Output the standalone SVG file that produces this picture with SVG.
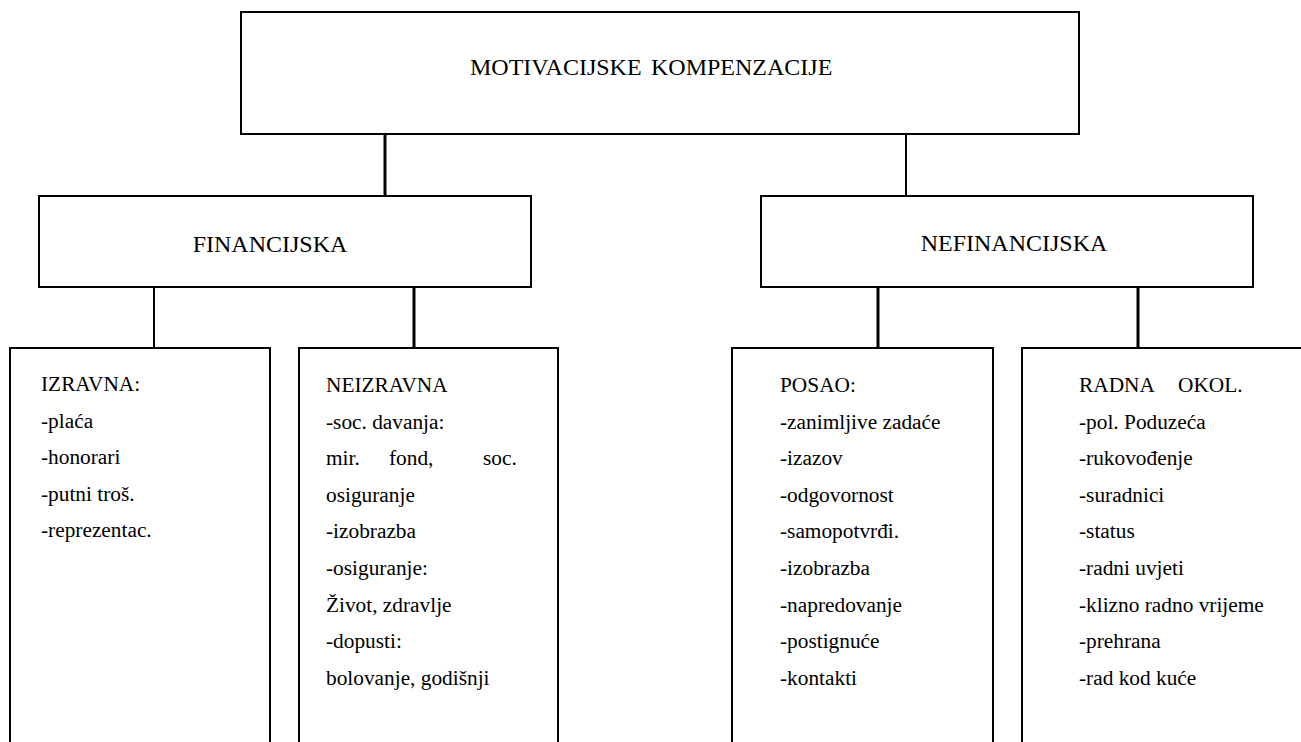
<svg xmlns="http://www.w3.org/2000/svg" width="1301" height="742" viewBox="0 0 1301 742" font-family="'Liberation Serif', 'Times New Roman', Times, 'DejaVu Serif', serif">
<style>
.box{fill:#fff;stroke:#000;stroke-width:2}
.ln{stroke:#000;stroke-width:2;fill:none}
.lnb{stroke:#000;stroke-width:3;fill:none}
text{font-family:'Liberation Serif', 'Times New Roman', Times, 'DejaVu Serif', serif;fill:#000}
.h{font-size:24px}
.b{font-size:21.33px}
</style>
<rect width="1301" height="742" fill="#fff"/>
<g id="connectors">
<line class="lnb" x1="385" y1="134" x2="385" y2="196"/>
<line class="ln" x1="906" y1="134" x2="906" y2="196"/>
<line class="ln" x1="154" y1="287" x2="154" y2="348"/>
<line class="lnb" x1="414" y1="287" x2="414" y2="348"/>
<line class="lnb" x1="878" y1="287" x2="878" y2="348"/>
<line class="lnb" x1="1138" y1="287" x2="1138" y2="348"/>
</g>
<g id="root">
<rect class="box" x="241" y="12" width="838" height="122"/>
<text class="h" y="75"><tspan x="470">MOTIVACIJSKE</tspan><tspan x="651">KOMPENZACIJE</tspan></text>
</g>
<g id="financijska">
<rect class="box" x="39" y="196" width="492" height="91"/>
<text class="h" x="270" y="252" text-anchor="middle">FINANCIJSKA</text>
</g>
<g id="nefinancijska">
<rect class="box" x="761" y="196" width="492" height="91"/>
<text class="h" x="1014" y="251" text-anchor="middle">NEFINANCIJSKA</text>
</g>
<g id="izravna">
<path class="ln" d="M10 745 V348 H270 V745"/>
<text class="b" x="41" y="391">IZRAVNA:</text>
<text class="b" x="41" y="428">-plaća</text>
<text class="b" x="41" y="464">-honorari</text>
<text class="b" x="41" y="501">-putni troš.</text>
<text class="b" x="41" y="537">-reprezentac.</text>
</g>
<g id="neizravna">
<path class="ln" d="M299 745 V348 H558 V745"/>
<text class="b" x="326" y="392">NEIZRAVNA</text>
<text class="b" x="326" y="429">-soc. davanja:</text>
<text class="b" y="465"><tspan x="326">mir.</tspan><tspan x="389">fond,</tspan><tspan x="483">soc.</tspan></text>
<text class="b" x="326" y="502">osiguranje</text>
<text class="b" x="326" y="538">-izobrazba</text>
<text class="b" x="326" y="575">-osiguranje:</text>
<text class="b" x="326" y="612">Život, zdravlje</text>
<text class="b" x="326" y="648">-dopusti:</text>
<text class="b" x="326" y="685">bolovanje, godišnji</text>
</g>
<g id="posao">
<path class="ln" d="M732 745 V348 H993 V745"/>
<text class="b" x="780" y="392">POSAO:</text>
<text class="b" x="780" y="429">-zanimljive zadaće</text>
<text class="b" x="780" y="465">-izazov</text>
<text class="b" x="780" y="502">-odgovornost</text>
<text class="b" x="780" y="538">-samopotvrđi.</text>
<text class="b" x="780" y="575">-izobrazba</text>
<text class="b" x="780" y="612">-napredovanje</text>
<text class="b" x="780" y="648">-postignuće</text>
<text class="b" x="780" y="685">-kontakti</text>
</g>
<g id="radna-okolina">
<path class="ln" d="M1022 745 V348 H1305"/>
<text class="b" y="392"><tspan x="1079">RADNA</tspan><tspan x="1178">OKOL.</tspan></text>
<text class="b" x="1079" y="429">-pol. Poduzeća</text>
<text class="b" x="1079" y="465">-rukovođenje</text>
<text class="b" x="1079" y="502">-suradnici</text>
<text class="b" x="1079" y="538">-status</text>
<text class="b" x="1079" y="575">-radni uvjeti</text>
<text class="b" x="1079" y="612">-klizno radno vrijeme</text>
<text class="b" x="1079" y="648">-prehrana</text>
<text class="b" x="1079" y="685">-rad kod kuće</text>
</g>
</svg>
